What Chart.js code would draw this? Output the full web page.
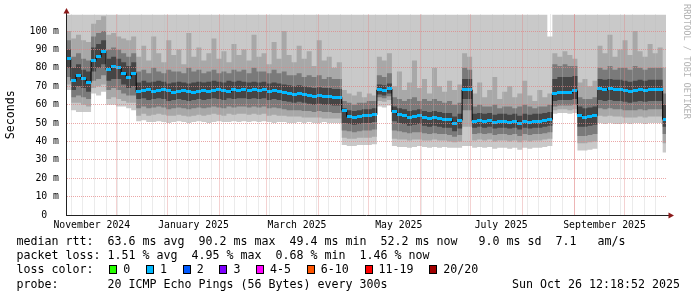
<!DOCTYPE html>
<html>
<head>
<meta charset="utf-8">
<title>smokeping</title>
<script src="https://cdn.jsdelivr.net/npm/chart.js@4.4.1/dist/chart.umd.min.js"></script>
<style>
  html, body { margin: 0; padding: 0; background: #fff; }
  #box { position: relative; width: 697px; height: 297px; overflow: hidden; background: #fff; }
  #chart { position: absolute; left: 0; top: 0; }
  .row { position: absolute; left: 16.5px; font: 11.63px "DejaVu Sans Mono", monospace; line-height: 14px; white-space: pre; color: #000; }
  .sw { position: absolute; width: 8px; height: 9px; box-sizing: border-box; border: 1px solid #000; }
  #mark { position: absolute; left: 682px; top: 4px; font: 8.7px "DejaVu Sans Mono", monospace; line-height: 10px; color: #b4b4b4; writing-mode: vertical-rl; white-space: pre; }
</style>
</head>
<body>
<div id="box">
  <canvas id="chart" width="697" height="297"></canvas>
  <div id="mark">RRDTOOL / TOBI OETIKER</div>
  <div class="row" style="top:234.3px">median rtt:  63.6 ms avg  90.2 ms max  49.4 ms min  52.2 ms now   9.0 ms sd  7.1   am/s</div>
  <div class="row" style="top:248.3px">packet loss: 1.51 % avg  4.95 % max  0.68 % min  1.46 % now</div>
  <div class="row" style="top:262.3px">loss color:</div>
  <div class="row" style="top:276.7px">probe:       20 ICMP Echo Pings (56 Bytes) every 300s</div>
  <div class="row" style="top:276.7px; left:auto; right:17px">Sun Oct 26 12:18:52 2025</div>
</div>
<script>
// x = days since 1 Nov 2024, one sample every 3 days
const days = [0,3,6,9,12,15,18,21,24,27,30,33,36,39,42,45,48,51,54,57,
  60,63,66,69,72,75,78,81,84,87,90,93,96,99,102,105,108,111,114,117,
  120,123,126,129,132,135,138,141,144,147,150,153,156,159,162,165,168,171,174,177,
  180,183,186,189,192,195,198,201,204,207,210,213,216,219,222,225,228,231,234,237,
  240,243,246,249,252,255,258,261,264,267,270,273,276,279,282,285,288,291,294,297,
  300,303,306,309,312,315,318,321,324,327,330,333,336,339,342,345,348,351,354,357];
const endDay = 360;

// median rtt (ms)
const median = [85,73,76,74,72,84,86,89,79,81,80,77,75,77,67,
  67.5,68,67,67.5,68,67.5,66.5,67,67.5,67,66.5,67,67.5,67,67.5,68,67.5,67,68,67.5,
  68,67.5,68,67.5,68,67,67.5,67,
  66.5,66,65.5,66,65.5,65,64.5,65,64.5,64.5,64,64,
  57,53.5,53,53.5,54,54,54.5,
  68,67.5,68.5,
  56,54.5,54,53,53.5,54,53,52.5,53,52.5,52,52,49.5,51.5,
  68,68,
  51,51.5,51,51.5,50.5,51,51,50.5,51,50,51,50.5,51,51,51.5,52,
  66,66.5,66.5,66.5,67.5,
  54,53,53.5,54,
  68.5,68,68.5,68,68,67.5,67,67.5,68,67.5,68,68,68,
  52];

// smoke: ping spread bounds, outer (4) to inner (1)
const smokeHi4 = [115,115,115,115,115,115,115,115,115,115,115,115,115,115,115,115,115,115,115,115,
  115,115,115,115,115,115,115,115,115,115,115,115,115,115,115,115,115,115,115,115,
  115,115,115,115,115,115,115,115,115,115,115,115,115,115,115,115,115,115,115,115,
  115,115,115,115,115,115,115,115,115,115,115,115,115,115,115,115,115,115,115,115,
  115,115,115,115,115,115,115,115,115,115,115,115,115,115,115,115,97,115,115,115,
  115,115,115,115,115,115,115,115,115,115,115,115,115,115,115,115,115,115,115,115];
const smokeHi3 = [100,96,98,95,94,104,106,108,98,99,97,96,95,97,
  86,92,84,97,88,83,95,87,90,82,99,86,91,84,88,96,85,89,83,93,87,
  90,84,98,86,88,82,94,85,100,87,83,92,85,89,81,95,84,86,80,83,
  68,66,65,67,64,66,65,
  86,84,88,
  70,78,68,72,84,69,74,66,80,70,67,73,68,71,
  88,86,
  66,72,64,68,75,63,67,70,64,66,73,65,62,68,64,66,
  88,86,89,87,85,
  72,74,70,73,
  92,88,98,86,90,95,87,100,89,86,93,88,91,
  80];
const smokeHi2 = [95,86,88,85,84,97,99,100,90,91,90,88,86,88,
  78,79,77,80,78,77,79,78,78,77,80,78,79,77,78,79,77,78,77,79,78,
  79,77,80,78,78,77,79,77,78,76,76,77,75,76,75,76,74,75,74,74,
  62,61,60,61,61,62,62,
  76,75,77,
  64,63,62,63,64,62,63,62,63,62,61,62,60,61,
  80,79,
  59,60,59,59,60,58,59,59,58,59,60,59,58,59,59,60,
  82,81,82,81,81,
  64,63,63,64,
  80,79,81,79,80,80,79,81,80,79,80,80,80,
  66];
const smokeHi1 = [90,80,82,79,78,91,93,95,85,86,85,83,81,83,
  72,73,72,72.5,73,72.5,71.5,72,72.5,72,71.5,72,72.5,72,72.5,73,72.5,72,73,72.5,73,
  72.5,72,72.5,72,72.5,71.5,72,71.5,71,70.5,70,70.5,70,69.5,69,69.5,69,69,68.5,68.5,
  58,57,56.5,57,57.5,57.5,58,
  71,70.5,71.5,
  59,58,57.5,56.5,57,57.5,56.5,56,56.5,56,55.5,55.5,53.5,55,
  74,74,
  55,55.5,55,55.5,54.5,55,55,54.5,55,54,55,54.5,55,55,55.5,56,
  74,75,75,75,75.5,
  59,58,58.5,59,
  74,73.5,74,73.5,73.5,73,72.5,73,73.5,73,73.5,73.5,73.5,
  60];
const smokeLo1 = [80,68,70,69,67,78,80,82,73,74,74,71,69,70,
  63,63.5,62.5,63,63.5,63,62,62.5,63,62.5,62,62.5,63,62.5,63,63.5,63,62.5,63.5,63,63.5,
  63.5,63,63.5,63,63.5,62.5,63,62.5,62,61.5,61,61.5,61,60.5,60,60.5,60,60,59.5,59.5,
  50,49.5,49,49.5,50,50,50.5,
  65.5,65,66,
  51,50,49.5,48.5,49,49.5,48.5,48,48.5,48,47.5,47.5,45.5,47,
  63,63,
  47.5,48,47.5,48,47,47.5,47.5,47,47.5,46.5,47.5,47,47.5,47.5,48,48.5,
  62,62.5,62.5,62.5,63,
  48,48,48.5,49,
  62.5,62,62.5,62,62,61.5,61,61.5,62,61.5,62,62,62,
  48];
const smokeLo2 = [75,64,65,64,63,73,74,76,68,69,68,66,65,65,
  58,59,58,58.5,59,58.5,57.5,58,58.5,58,57.5,58,58.5,58,58.5,59,58.5,58,59,58.5,59,
  59,58.5,59,58.5,59,58,58.5,58,57.5,57,57,57,56.5,56.5,56,56.5,56,56,55.5,55.5,
  46,45.5,45,45.5,46,46,46.5,
  64,63.5,64.5,
  46,45.5,45,44.5,45,45,44.5,44,44.5,44,44,43.5,42.5,43.5,
  57,57,
  44,44.5,44,44.5,43.5,44,44,43.5,44,43,44,43.5,44,44,44.5,45,
  59,59.5,59.5,59.5,60,
  43,43,43.5,44,
  58,57.5,58,57.5,57.5,57,57,57,57.5,57,57.5,57.5,57.5,
  44];
const smokeLo3 = [71,61,61,60,59,69,70,71,63,64,63,62,61,61,
  54,55,54,54.5,55,54.5,54,54,54.5,54,53.5,54,54.5,54,54.5,55,54.5,54,55,54.5,55,
  55,54.5,55,54.5,55,54,54.5,54,54,53.5,53.5,53.5,53,53,53,53,52.5,52.5,52.5,52.5,
  42,41.5,41.5,42,42,42,42.5,
  62,61.5,62.5,
  41.5,41,41,40.5,41,41,40.5,40.5,41,40.5,40.5,40,39.5,40,
  48,48,
  40.5,41,40.5,41,40,40.5,40.5,40,40.5,39.5,40.5,40,40.5,40.5,41,41.5,
  57,57.5,57.5,57,57.5,
  39,39,39.5,40,
  54,53.5,54,53.5,53.5,53,53,53,53.5,53,53.5,53.5,53.5,
  39];
const smokeLo4 = [68,57,56,56,56,66,65,67,60,60,59,59,58,57,
  51,51.5,50.5,50.5,51,50.5,50,50.5,51,50.5,50,50.5,51,50.5,50,50.5,51,50.5,50.5,51,50.5,
  51,50.5,51,50.5,51,50.5,50,50.5,50.5,50,50,50.5,50,50.5,50,50,50.5,50,50,50,
  38,37.5,37.5,38,38,38,38.5,
  59,58.5,59.5,
  37.5,37,37,36.5,37,37.5,37,36.5,37,36.5,37,36.5,36.5,36.5,
  37.5,37.5,
  36.5,37,36.5,37,36,36.5,36.5,36,36.5,35.5,36.5,36,36.5,36.5,37,37.5,
  55,55.5,55.5,55,55.5,
  35,35,35.5,36,
  50,49.5,50,49.5,49.5,50,49.5,50,50,49.5,50,50,50,
  34];

// axis ticks
const monthStarts = [0,30,61,92,120,151,181,212,242,273,304,334];
const monthLabels = ['November 2024','January 2025','March 2025','May 2025','July 2025','September 2025'];
const monthLabelDays = [15.4,76.3,138.2,199.1,260.4,322.2];
const yGrid = [0,5,10,15,20,25,30,35,40,45,50,55,60,65,70,75,80,85,90,95,100,105];

const lossLabels = ['0','1','2','3','4-5','6-10','11-19','20/20'];
const lossColors = ['#26ff00','#00b8ff','#0059ff','#7e00ff','#ff00ff','#ff5500','#ff0000','#a10000'];

const mondays = [];
for (let d = 3; d < 360; d += 7) mondays.push(d);

const MONO = '"DejaVu Sans Mono", monospace';
const MGRID = 'rgba(225,130,130,0.7)';
const GRID = 'rgba(190,190,190,0.6)';

// legend swatches
const box = document.getElementById('box');
let lx = 109.3;
lossLabels.forEach((lab, i) => {
  const sw = document.createElement('div');
  sw.className = 'sw';
  sw.style.left = lx + 'px';
  sw.style.top = '265px';
  sw.style.background = lossColors[i];
  box.appendChild(sw);
  const t = document.createElement('div');
  t.className = 'row';
  t.style.left = (lx + 14) + 'px';
  t.style.top = '262.3px';
  t.textContent = lab;
  box.appendChild(t);
  lx += 36.7 + 7 * (lab.length - 1);
});

function pts(arr) {
  const p = days.map((d, i) => ({x: d, y: arr[i]}));
  p.push({x: endDay, y: arr[arr.length - 1]});
  return p;
}

const cyanMark = document.createElement('canvas');
cyanMark.width = 5; cyanMark.height = 3;
const cm = cyanMark.getContext('2d');
cm.fillStyle = lossColors[1];
cm.fillRect(0, 0, 5, 3);

function band(arr, color, order, target) {
  return {
    data: pts(arr), stepped: true, borderWidth: 0, pointRadius: 0,
    backgroundColor: color, fill: target === undefined ? false : target, order: order
  };
}

const arrows = {
  id: 'arrows',
  afterDraw(chart) {
    const {ctx, chartArea: a} = chart;
    ctx.save();
    ctx.strokeStyle = '#222';
    ctx.lineWidth = 1;
    ctx.beginPath();
    ctx.moveTo(a.right, Math.round(a.bottom) + 0.5);
    ctx.lineTo(a.right + 3, Math.round(a.bottom) + 0.5);
    ctx.moveTo(Math.round(a.left) + 0.5, a.top);
    ctx.lineTo(Math.round(a.left) + 0.5, a.top - 2);
    ctx.stroke();
    ctx.fillStyle = '#8b1a1a';
    ctx.beginPath();
    const ax = Math.round(a.left) + 0.5;
    ctx.moveTo(ax, a.top - 6.5);
    ctx.lineTo(ax - 3, a.top - 1);
    ctx.lineTo(ax + 3, a.top - 1);
    ctx.closePath();
    ctx.fill();
    const ay = Math.round(a.bottom) + 0.5;
    ctx.beginPath();
    ctx.moveTo(a.right + 8, ay);
    ctx.lineTo(a.right + 2.5, ay - 3);
    ctx.lineTo(a.right + 2.5, ay + 3);
    ctx.closePath();
    ctx.fill();
    ctx.restore();
  }
};

new Chart(document.getElementById('chart'), {
  type: 'line',
  data: {
    datasets: [
      { data: days.map((d, i) => ({x: d + 1.5, y: median[i]})), showLine: false,
        pointStyle: cyanMark, pointRadius: 2, borderWidth: 0, order: 0 },
      { data: pts(median), stepped: true, borderColor: '#000', borderWidth: 1,
        pointRadius: 0, fill: false, order: 1 },
      band(smokeLo1, '#454545', 2),
      band(smokeHi1, '#454545', 2, 2),
      band(smokeLo2, '#7a7a7a', 3),
      band(smokeHi2, '#7a7a7a', 3, 4),
      band(smokeLo3, '#a8a8a8', 4),
      band(smokeHi3, '#a8a8a8', 4, 6),
      band(smokeLo4, '#c9c9c9', 5),
      band(smokeHi4, '#c9c9c9', 5, 8)
    ]
  },
  options: {
    responsive: false,
    animation: false,
    events: [],
    layout: { padding: { left: 0, right: 31, top: 14.5, bottom: 0 } },
    plugins: { legend: { display: false }, tooltip: { enabled: false } },
    scales: {
      x: {
        type: 'linear', min: 0, max: 359,
        afterFit(s) { s.height = 82; },
        afterBuildTicks(s) {
          const v = monthStarts.concat(mondays, monthLabelDays).sort((a, b) => a - b);
          s.ticks = v.map(value => ({value}));
        },
        ticks: {
          autoSkip: false, maxRotation: 0, padding: 5, color: '#000',
          font: { family: MONO, size: 9.8 },
          callback(v) { const k = monthLabelDays.indexOf(v); return k < 0 ? '' : monthLabels[k]; }
        },
        grid: {
          z: 1, drawTicks: false, lineWidth: 1,
          color(c) {
            const v = c.tick ? c.tick.value : -1;
            if (monthStarts.includes(v)) return MGRID;
            if (mondays.includes(v)) return GRID;
            return 'rgba(0,0,0,0)';
          }
        },
        border: { z: 2, color: '#222', width: 1, dash: [1, 1] }
      },
      y: {
        type: 'linear', min: 0, max: 109,
        afterFit(s) { s.width = 66; },
        afterBuildTicks(s) { s.ticks = yGrid.map(value => ({value})); },
        ticks: {
          padding: 7, color: '#000',
          font: { family: MONO, size: 9.8 },
          callback(v) { return v % 10 !== 0 ? '' : (v === 0 ? '0  ' : v + ' m'); }
        },
        grid: {
          z: 1, drawTicks: false, lineWidth: 1,
          color(c) { const v = c.tick ? c.tick.value : 1; return v % 10 === 0 ? MGRID : GRID; }
        },
        border: { z: 2, color: '#222', width: 1, dash: [1, 1] },
        title: {
          display: true, text: 'Seconds', color: '#000',
          font: { family: MONO, size: 11.63 }, padding: { top: 4, bottom: 0 }
        }
      }
    }
  },
  plugins: [arrows]
});
</script>
</body>
</html>
